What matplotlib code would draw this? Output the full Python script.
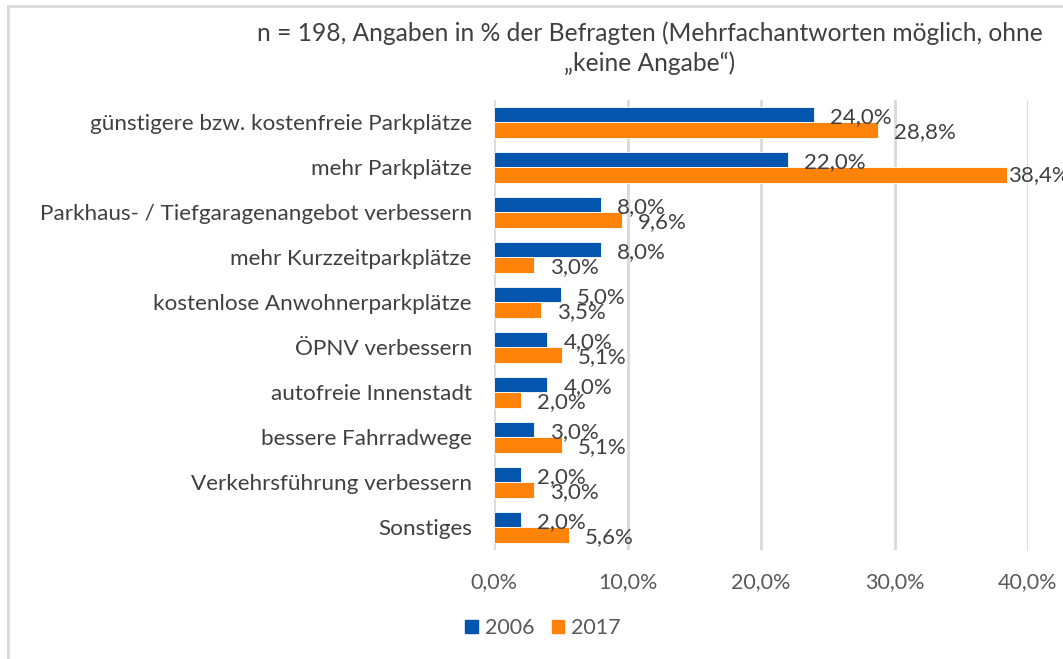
import matplotlib.pyplot as plt
import numpy as np
from matplotlib.lines import Line2D
from matplotlib.patches import Patch

plt.rcParams['font.family'] = ['Lato', 'DejaVu Sans']

categories = [
    'günstigere bzw. kostenfreie Parkplätze',
    'mehr Parkplätze',
    'Parkhaus- / Tiefgaragenangebot verbessern',
    'mehr Kurzzeitparkplätze',
    'kostenlose Anwohnerparkplätze',
    'ÖPNV verbessern',
    'autofreie Innenstadt',
    'bessere Fahrradwege',
    'Verkehrsführung verbessern',
    'Sonstiges',
]
werte_2006 = [24.0, 22.0, 8.0, 8.0, 5.0, 4.0, 4.0, 3.0, 2.0, 2.0]
werte_2017 = [28.8, 38.4, 9.6, 3.0, 3.5, 5.1, 2.0, 5.1, 3.0, 5.6]
x_ticks = [0, 10, 20, 30, 40]

blau = '#0455AD'
orange = '#FF8209'
text_farbe = '#404040'

W, H = 1063, 659
fig = plt.figure(figsize=(W / 100, H / 100), dpi=100)
ax = fig.add_axes([494 / W, 1 - 550 / H, (1028 - 494) / W, 450 / H])

y = np.arange(len(categories))
h = 0.35
ax.barh(y - h / 2, werte_2006, height=h, color=blau, edgecolor='white', linewidth=0.6, zorder=3)
ax.barh(y + h / 2, werte_2017, height=h, color=orange, edgecolor='white', linewidth=0.6, zorder=3)

def fmt(v):
    return f'{v:.1f}'.replace('.', ',') + '%'

def wert_label(v, yb):
    # lange Balken: Beschriftung direkt ans Balkenende, sonst mit Abstand
    off = (1, 0) if v > 36 else (16, -2)
    ax.annotate(fmt(v), (v, yb), xytext=off, textcoords='offset pixels',
                va='center', ha='left', fontsize=16, color=text_farbe, zorder=4,
                annotation_clip=False)

for yi, v in zip(y, werte_2006):
    wert_label(v, yi - h / 2)
for yi, v in zip(y, werte_2017):
    wert_label(v, yi + h / 2)

ax.set_xlim(0, 40)
ax.set_ylim(len(categories) - 0.5, -0.5)
ax.set_xticks(x_ticks)
ax.set_xticklabels([fmt(t) for t in x_ticks], fontsize=15.5, color='#595959')
ax.set_yticks(y)
ax.set_yticklabels(categories, fontsize=16.2, color=text_farbe)
ax.tick_params(length=0, pad=16, axis='x')
ax.tick_params(length=0, pad=16, axis='y')
ax.grid(axis='x', color='#D9D9D9', linewidth=2, zorder=0)
for s in ax.spines.values():
    s.set_visible(False)

fig.text(650 / W, 1 - 33 / H, 'n = 198, Angaben in % der Befragten (Mehrfachantworten möglich, ohne',
         ha='center', va='center', fontsize=17.7, color=text_farbe)
fig.text(650 / W, 1 - 63 / H, '„keine Angabe“)',
         ha='center', va='center', fontsize=17.7, color=text_farbe)

handles = [Patch(color=blau, label='2006'), Patch(color=orange, label='2017')]
fig.legend(handles=handles, loc='center', bbox_to_anchor=(543 / W, 1 - 628 / H), ncol=2,
           frameon=False, fontsize=15.5, handlelength=0.6, handleheight=0.6,
           handletextpad=0.3, columnspacing=0.8, labelcolor='#595959')

# Rahmen links und oben
fig.add_artist(Line2D([8 / W, 8 / W], [0, 1 - 6 / H], color='#D9D9D9', linewidth=2))
fig.add_artist(Line2D([8 / W, 1], [1 - 6 / H, 1 - 6 / H], color='#D9D9D9', linewidth=2))

fig.savefig('out.png', dpi=100)
